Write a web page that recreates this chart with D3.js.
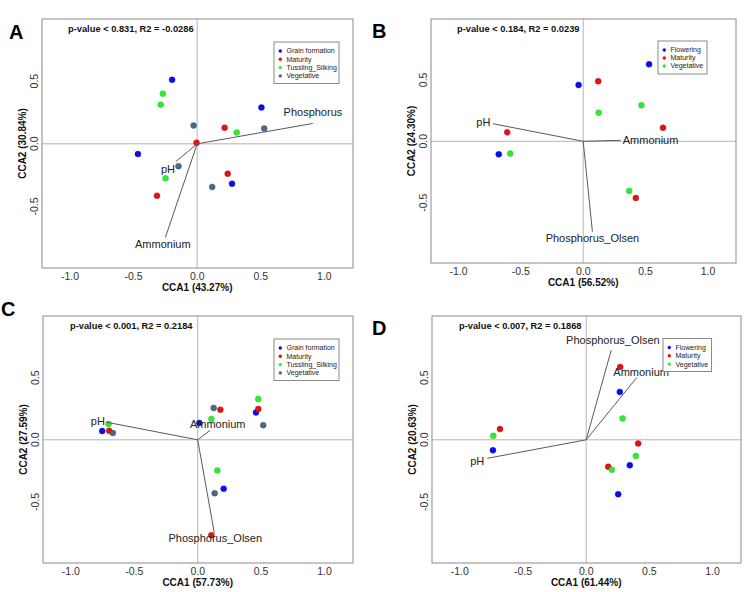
<!DOCTYPE html>
<html>
<head>
<meta charset="utf-8">
<script src="https://cdn.jsdelivr.net/npm/d3@7"></script>
<style>
  body { margin: 0; background: #fff; }
  svg { display: block; font-family: "Liberation Sans", Arial, sans-serif; }
  .frame { fill: none; stroke: #8a8a8a; stroke-width: 1; }
  .zero { stroke: #b4b4b4; stroke-width: 1; }
  .tick { font-size: 10.5px; fill: #333; }
  .axisTitle { font-size: 10px; font-weight: bold; fill: #111; }
  .stats { font-size: 9.3px; font-weight: bold; fill: #111; }
  .letter { font-size: 20px; font-weight: bold; fill: #000; }
  .env { stroke: #5a5a5a; stroke-width: 1; }
  .envLabel { font-size: 11px; fill: #222; }
  .legendBox { fill: #fff; stroke: #8a8a8a; stroke-width: 1; }
  .legendText { font-size: 7px; fill: #222; }
</style>
</head>
<body>
<div id="chart"></div>
<script>
// ---- shared ticks / groups ----
var xTicks = [-1, -0.5, 0, 0.5, 1];
var yTicks = [-0.5, 0, 0.5];

var groups4 = ["Grain formation", "Maturity", "Tussling_Silking", "Vegetative"];
var groups3 = ["Flowering", "Maturity", "Vegetative"];
var colors4 = ["#0c0cee", "#e51212", "#33ea33", "#4b6885"];
var colors3 = ["#0c0cee", "#e51212", "#33ea33"];

// ---- panel A ----
var statsA = "p-value < 0.831, R2 = -0.0286";
var axesA = ["CCA1 (43.27%)", "CCA2 (30.84%)"];
var pointsA = [
  [-0.197, 0.51, 0], [0.505, 0.29, 0], [-0.466, -0.082, 0], [0.274, -0.318, 0],
  [-0.005, 0.008, 1], [0.216, 0.128, 1], [0.24, -0.238, 1], [-0.316, -0.414, 1],
  [-0.27, 0.40, 2], [-0.287, 0.312, 2], [0.311, 0.09, 2], [-0.249, -0.275, 2],
  [-0.028, 0.146, 3], [0.527, 0.122, 3], [-0.147, -0.178, 3], [0.118, -0.344, 3]
];
var envNamesA = ["Phosphorus", "pH", "Ammonium"];
var envTipsA = [[0.908, 0.162], [-0.168, -0.142], [-0.25, -0.746]];
var envLabelsA = [[0.91, 0.25], [-0.23, -0.2], [-0.27, -0.80]];

// ---- panel B ----
var statsB = "p-value < 0.184, R2 = 0.0239";
var axesB = ["CCA1 (56.52%)", "CCA2 (24.30%)"];
var pointsB = [
  [0.528, 0.626, 0], [-0.037, 0.458, 0], [-0.677, -0.106, 0],
  [0.12, 0.488, 1], [0.64, 0.11, 1], [-0.609, 0.073, 1], [0.422, -0.461, 1],
  [0.124, 0.233, 2], [0.467, 0.293, 2], [-0.585, -0.1, 2], [0.369, -0.404, 2]
];
var envNamesB = ["pH", "Ammonium", "Phosphorus_Olsen"];
var envTipsB = [[-0.723, 0.143], [0.30, 0.008], [0.074, -0.735]];
var envLabelsB = [[-0.80, 0.157], [0.54, 0.008], [0.074, -0.79]];

// ---- panel C ----
var statsC = "p-value < 0.001, R2 = 0.2184";
var axesC = ["CCA1 (57.73%)", "CCA2 (27.59%)"];
var pointsC = [
  [-0.753, 0.07, 0], [0.013, 0.136, 0], [0.46, 0.22, 0], [0.205, -0.394, 0],
  [-0.698, 0.072, 1], [0.179, 0.242, 1], [0.478, 0.248, 1], [0.108, -0.766, 1],
  [-0.703, 0.128, 2], [0.108, 0.168, 2], [0.478, 0.328, 2], [0.155, -0.246, 2],
  [-0.669, 0.054, 3], [0.126, 0.256, 3], [0.517, 0.118, 3], [0.134, -0.43, 3]
];
var envNamesC = ["pH", "Ammonium", "Phosphorus_Olsen"];
var envTipsC = [[-0.721, 0.142], [0.097, 0.075], [0.131, -0.747]];
var envLabelsC = [[-0.787, 0.152], [0.158, 0.126], [0.139, -0.79]];

// ---- panel D ----
var statsD = "p-value < 0.007, R2 = 0.1868";
var axesD = ["CCA1 (61.44%)", "CCA2 (20.63%)"];
var pointsD = [
  [0.266, 0.385, 0], [-0.738, -0.084, 0], [0.345, -0.205, 0], [0.253, -0.437, 0],
  [0.269, 0.585, 1], [-0.682, 0.086, 1], [0.411, -0.03, 1], [0.174, -0.216, 1],
  [0.288, 0.172, 2], [-0.735, 0.032, 2], [0.393, -0.13, 2], [0.203, -0.24, 2]
];
var envNamesD = ["Phosphorus_Olsen", "Ammonium", "pH"];
var envTipsD = [[0.198, 0.72], [0.40, 0.50], [-0.783, -0.149]];
var envLabelsD = [[0.211, 0.80], [0.435, 0.547], [-0.862, -0.17]];

// layout of each panel (pixels on the 746x592 page)
var panels = [
  { letter: "A", lx: 9, ly: 39, x0: 42, x1: 353, y0: 19, y1: 268, sx: 68, sy: 32,
    stats: statsA, axes: axesA, points: pointsA, groups: groups4, colors: colors4,
    envNames: envNamesA, envTips: envTipsA, envLabels: envLabelsA,
    legend: { x: 274, y: 42, w: 65, h: 41.5, step: 8.3 } },
  { letter: "B", lx: 372, ly: 38, x0: 431, x1: 736, y0: 19, y1: 263, sx: 457, sy: 32,
    stats: statsB, axes: axesB, points: pointsB, groups: groups3, colors: colors3,
    envNames: envNamesB, envTips: envTipsB, envLabels: envLabelsB,
    legend: { x: 658, y: 41, w: 49, h: 33, step: 8 } },
  { letter: "C", lx: 1, ly: 316, x0: 43, x1: 353, y0: 316, y1: 563, sx: 70, sy: 329,
    stats: statsC, axes: axesC, points: pointsC, groups: groups4, colors: colors4,
    envNames: envNamesC, envTips: envTipsC, envLabels: envLabelsC,
    legend: { x: 274, y: 339, w: 65, h: 41.5, step: 8.3 } },
  { letter: "D", lx: 372, ly: 335, x0: 432, x1: 741, y0: 316, y1: 563, sx: 459, sy: 329,
    stats: statsD, axes: axesD, points: pointsD, groups: groups3, colors: colors3,
    envNames: envNamesD, envTips: envTipsD, envLabels: envLabelsD,
    legend: { x: 663, y: 338.5, w: 48.5, h: 33, step: 8.3 } }
];

var svg = d3.select("#chart").append("svg")
  .attr("width", 746)
  .attr("height", 592);

svg.append("rect").attr("width", 746).attr("height", 592).attr("fill", "#fff");

var fmt = function (d) { return d.toFixed(1); };

panels.forEach(function (p) {

  var x = d3.scaleLinear().domain([-1.22, 1.225]).range([p.x0, p.x1]);
  var y = d3.scaleLinear().domain([-0.99, 0.995]).range([p.y1, p.y0]);
  var g = svg.append("g");

  // zero lines
  g.append("line").attr("class", "zero")
    .attr("x1", x(0)).attr("x2", x(0)).attr("y1", p.y0).attr("y2", p.y1);
  g.append("line").attr("class", "zero")
    .attr("x1", p.x0).attr("x2", p.x1).attr("y1", y(0)).attr("y2", y(0));

  // tick labels
  g.selectAll(".xt").data(xTicks).enter()
    .append("text")
    .attr("class", "tick")
    .attr("x", function (d) { return x(d); })
    .attr("y", p.y1 + 11.5)
    .attr("text-anchor", "middle")
    .text(fmt);

  g.selectAll(".yt").data(yTicks).enter()
    .append("text")
    .attr("class", "tick")
    .attr("transform", function (d) { return "translate(" + (p.x0 - 4.5) + "," + y(d) + ") rotate(-90)"; })
    .attr("text-anchor", "middle")
    .text(fmt);

  // axis titles
  g.append("text").attr("class", "axisTitle")
    .attr("x", x(0)).attr("y", p.y1 + 23)
    .attr("text-anchor", "middle")
    .text(p.axes[0]);

  g.append("text").attr("class", "axisTitle")
    .attr("transform", "translate(" + (p.x0 - 16) + "," + ((p.y0 + p.y1) / 2) + ") rotate(-90)")
    .attr("text-anchor", "middle")
    .text(p.axes[1]);

  // points
  g.selectAll(".pt").data(p.points).enter()
    .append("circle")
    .attr("cx", function (d) { return x(d[0]); })
    .attr("cy", function (d) { return y(d[1]); })
    .attr("r", 3)
    .attr("fill", function (d) { return p.colors[d[2]]; })
    .attr("stroke", function (d) { return d3.color(p.colors[d[2]]).darker(0.6); })
    .attr("stroke-width", 0.4);

  // environmental arrows
  g.selectAll(".env").data(p.envTips).enter()
    .append("line")
    .attr("class", "env")
    .attr("x1", x(0)).attr("y1", y(0))
    .attr("x2", function (d) { return x(d[0]); })
    .attr("y2", function (d) { return y(d[1]); });

  g.selectAll(".envLabel").data(p.envLabels).enter()
    .append("text")
    .attr("class", "envLabel")
    .attr("x", function (d) { return x(d[0]); })
    .attr("y", function (d) { return y(d[1]); })
    .attr("dy", "0.35em")
    .attr("text-anchor", "middle")
    .text(function (d, i) { return p.envNames[i]; });

  // frame
  g.append("rect").attr("class", "frame")
    .attr("x", p.x0).attr("y", p.y0)
    .attr("width", p.x1 - p.x0).attr("height", p.y1 - p.y0);

  // legend
  var L = p.legend;
  var lg = g.append("g").attr("transform", "translate(" + L.x + "," + L.y + ")");
  lg.append("rect").attr("class", "legendBox").attr("width", L.w).attr("height", L.h);
  var rows = lg.selectAll(".row").data(p.groups).enter()
    .append("g")
    .attr("transform", function (d, i) { return "translate(0," + (9 + i * L.step) + ")"; });
  rows.append("circle").attr("cx", 6.3).attr("r", 1.7)
    .attr("fill", function (d, i) { return p.colors[i]; });
  rows.append("text").attr("class", "legendText")
    .attr("x", 12.5).attr("dy", "0.35em")
    .text(function (d) { return d; });

  // stats and panel letter
  g.append("text").attr("class", "stats").attr("x", p.sx).attr("y", p.sy).text(p.stats);
  g.append("text").attr("class", "letter").attr("x", p.lx).attr("y", p.ly).text(p.letter);
});
</script>
</body>
</html>
